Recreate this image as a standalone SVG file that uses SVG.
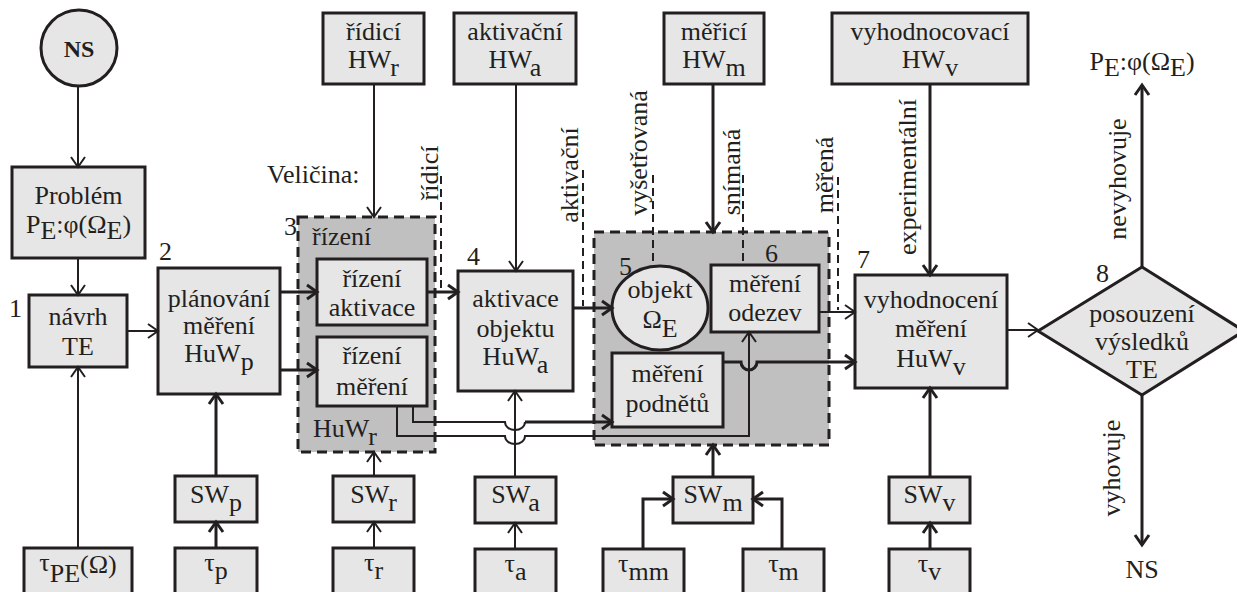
<svg xmlns="http://www.w3.org/2000/svg" width="1237" height="592" viewBox="0 0 1237 592" font-family="'Liberation Serif', 'Times New Roman', Times, serif">
<style>
.box{fill:#e6e6e6;stroke:#231f20;stroke-width:3}
.grp{fill:#c0c0c0;stroke:#231f20;stroke-width:3;stroke-dasharray:10 6}
.t{font-family:'Liberation Serif','Times New Roman',Times,serif;font-size:26px;fill:#231f20}
.c{text-anchor:middle}
.b{font-weight:bold;font-size:24px}
.thin{fill:none;stroke:#231f20;stroke-width:2}
.thick{fill:none;stroke:#231f20;stroke-width:3}
.dash{fill:none;stroke:#231f20;stroke-width:2;stroke-dasharray:8 5}
.a1{marker-end:url(#ah1)}
.a2{marker-end:url(#ah2)}
</style>
<defs>
<marker id="ah1" markerUnits="userSpaceOnUse" viewBox="-14 -10 17 20" refX="0" refY="0" markerWidth="17" markerHeight="20" orient="auto"><path d="M-10,-7 L0,0 L-10,7" fill="none" stroke="#231f20" stroke-width="2"/></marker>
<marker id="ah2" markerUnits="userSpaceOnUse" viewBox="-14 -10 17 20" refX="0" refY="0" markerWidth="17" markerHeight="20" orient="auto"><path d="M-10,-7 L0,0 L-10,7" fill="none" stroke="#231f20" stroke-width="3"/></marker>
</defs>
<rect width="1237" height="592" fill="#ffffff"/>

<g id="ns-top"><circle class="box" cx="79" cy="48" r="38"/><text class="t c b" x="79" y="57">NS</text></g>
<g id="problem"><rect class="box" x="12" y="167" width="133" height="91"/><text class="t c" x="78.5" y="204">Problém</text><text class="t c" x="78.5" y="233">P<tspan dy="6">E</tspan><tspan dy="-6">:φ(Ω</tspan><tspan dy="6">E</tspan><tspan dy="-6">)</tspan></text></g>
<g id="navrh"><rect class="box" x="29" y="295" width="98" height="72"/><text class="t c" x="78" y="325">návrh</text><text class="t c" x="78" y="355">TE</text><text class="t" x="9" y="317">1</text></g>
<g id="planovani"><rect class="box" x="158" y="268" width="122" height="126"/><text class="t c" x="219" y="307">plánování</text><text class="t c" x="219" y="334">měření</text><text class="t c" x="219" y="362">HuW<tspan dy="8">p</tspan></text><text class="t" x="159" y="260">2</text></g>

<g id="hw-r"><rect class="box" x="323" y="13" width="101" height="71"/><text class="t c" x="373.5" y="40">řídicí</text><text class="t c" x="373.5" y="68">HW<tspan dy="8">r</tspan></text></g>
<g id="hw-a"><rect class="box" x="454" y="13" width="122" height="71"/><text class="t c" x="515" y="40">aktivační</text><text class="t c" x="515" y="68">HW<tspan dy="8">a</tspan></text></g>
<g id="hw-m"><rect class="box" x="664" y="13" width="100" height="71"/><text class="t c" x="714" y="40">měřicí</text><text class="t c" x="714" y="68">HW<tspan dy="8">m</tspan></text></g>
<g id="hw-v"><rect class="box" x="832" y="13" width="196" height="71"/><text class="t c" x="930" y="40">vyhodnocovací</text><text class="t c" x="930" y="68">HW<tspan dy="8">v</tspan></text></g>

<g id="velicina"><text class="t" x="267" y="183">Veličina:</text></g>

<g id="huw-r">
<rect class="grp" x="298" y="217" width="137" height="235"/>
<text class="t" x="284" y="235">3</text>
<text class="t" x="312" y="245">řízení</text>
<text class="t" x="313" y="437">HuW<tspan dy="8">r</tspan></text>
<g id="rizeni-aktivace"><rect class="box" x="317" y="259" width="110" height="66"/><text class="t c" x="372" y="287">řízení</text><text class="t c" x="372" y="316">aktivace</text></g>
<g id="rizeni-mereni"><rect class="box" x="317" y="337" width="110" height="69"/><text class="t c" x="372" y="364">řízení</text><text class="t c" x="372" y="395">měření</text></g>
</g>

<g id="aktivace"><rect class="box" x="458" y="271" width="115" height="120"/><text class="t c" x="515.5" y="307">aktivace</text><text class="t c" x="515.5" y="337">objektu</text><text class="t c" x="515.5" y="365">HuW<tspan dy="8">a</tspan></text><text class="t" x="467" y="265">4</text></g>

<g id="mereni-grp">
<rect class="grp" x="594" y="232" width="235" height="213"/>
<g id="objekt"><ellipse class="box" cx="660" cy="308" rx="48" ry="42"/><text class="t c" x="660" y="298">objekt</text><text class="t c" x="660" y="328">Ω<tspan dy="9">E</tspan></text><text class="t" x="619" y="275">5</text></g>
<g id="mereni-odezev"><rect class="box" x="711" y="265" width="108" height="67"/><text class="t c" x="765" y="292">měření</text><text class="t c" x="765" y="321">odezev</text><text class="t" x="765" y="262">6</text></g>
<g id="mereni-podnetu"><rect class="box" x="612" y="353" width="111" height="74"/><text class="t c" x="667.5" y="382">měření</text><text class="t c" x="667.5" y="412">podnětů</text></g>
</g>

<g id="vyhodnoceni"><rect class="box" x="855" y="275" width="152" height="113"/><text class="t c" x="931" y="308">vyhodnocení</text><text class="t c" x="931" y="337">měření</text><text class="t c" x="931" y="367">HuW<tspan dy="8">v</tspan></text><text class="t" x="857" y="268">7</text></g>
<g id="posouzeni"><polygon class="box" points="1142,267 1244,331 1142,395 1038,331"/><text class="t c" x="1142" y="322">posouzení</text><text class="t c" x="1142" y="350">výsledků</text><text class="t c" x="1142" y="378">TE</text><text class="t" x="1096" y="282">8</text></g>
<g id="pe-out"><text class="t c" x="1142" y="70">P<tspan dy="6">E</tspan><tspan dy="-6">:φ(Ω</tspan><tspan dy="6">E</tspan><tspan dy="-6">)</tspan></text></g>
<g id="ns-out"><text class="t c" x="1142" y="578">NS</text></g>

<g id="sw-p"><rect class="box" x="175" y="476" width="82" height="46"/><text class="t c" x="216" y="503">SW<tspan dy="8">p</tspan></text></g>
<g id="sw-r"><rect class="box" x="333" y="476" width="81" height="46"/><text class="t c" x="373.5" y="503">SW<tspan dy="8">r</tspan></text></g>
<g id="sw-a"><rect class="box" x="475" y="477" width="81" height="46"/><text class="t c" x="515.5" y="503">SW<tspan dy="8">a</tspan></text></g>
<g id="sw-m"><rect class="box" x="673" y="477" width="80" height="46"/><text class="t c" x="713" y="503">SW<tspan dy="8">m</tspan></text></g>
<g id="sw-v"><rect class="box" x="889" y="477" width="81" height="46"/><text class="t c" x="929.5" y="503">SW<tspan dy="8">v</tspan></text></g>

<g id="tau-pe"><rect class="box" x="24" y="548" width="108" height="60"/><text class="t c" x="78" y="571">τ<tspan dy="11">PE</tspan><tspan dy="-9">(Ω)</tspan></text></g>
<g id="tau-p"><rect class="box" x="175" y="548" width="82" height="60"/><text class="t c" x="216" y="571">τ<tspan dy="8">p</tspan></text></g>
<g id="tau-r"><rect class="box" x="333" y="548" width="81" height="60"/><text class="t c" x="373.5" y="571">τ<tspan dy="8">r</tspan></text></g>
<g id="tau-a"><rect class="box" x="475" y="549" width="81" height="60"/><text class="t c" x="515.5" y="572">τ<tspan dy="8">a</tspan></text></g>
<g id="tau-mm"><rect class="box" x="603" y="549" width="81" height="60"/><text class="t c" x="643.5" y="572">τ<tspan dy="8">mm</tspan></text></g>
<g id="tau-m"><rect class="box" x="743" y="549" width="81" height="60"/><text class="t c" x="783.5" y="572">τ<tspan dy="8">m</tspan></text></g>
<g id="tau-v"><rect class="box" x="889" y="549" width="81" height="60"/><text class="t c" x="929.5" y="572">τ<tspan dy="8">v</tspan></text></g>

<g id="connectors">
<path class="thin a1" d="M78,86 V167"/>
<path class="thin a1" d="M78,258 V295"/>
<path class="thin a1" d="M78,548 V367"/>
<path class="thin a1" d="M127,331 H158"/>
<path class="thick a2" d="M280,292 H317"/>
<path class="thick a2" d="M280,370 H317"/>
<path class="thick a2" d="M216,476 V394"/>
<path class="thick a2" d="M216,548 V522"/>
<path class="thin a1" d="M374,84 V217"/>
<path class="thin a1" d="M374,476 V452"/>
<path class="thin a1" d="M374,548 V522"/>
<path class="thick a2" d="M427,292 H458"/>
<path class="thin a1" d="M516,84 V271"/>
<path class="thin a1" d="M515,477 V391"/>
<path class="thin a1" d="M515,549 V523"/>
<path class="thick a2" d="M573,308 H612"/>
<path class="thick a2" d="M713,84 V232"/>
<path class="thick a2" d="M713,477 V445"/>
<path class="thick a2" d="M643,549 V499 H673"/>
<path class="thick a2" d="M782,549 V499 H753"/>
<path class="thin a1" d="M819,312 H855"/>
<path class="thick a2" d="M723,362 H741 a8,8 0 0 0 16,0 H855"/>
<path class="thin a1" d="M1007,330 H1038"/>
<path class="thick a2" d="M1142,267 V85"/>
<path class="thick a2" d="M1142,395 V545"/>
<path class="thick a2" d="M930,84 V275"/>
<path class="thick a2" d="M930,477 V388"/>
<path class="thick a2" d="M930,549 V523"/>
<path class="thin" d="M413,406 V422 H505 a10,8 0 0 0 20,0"/>
<path class="thick a2" d="M525,422 H612"/>
<path class="thin a1" d="M397,406 V436 H505 a10,8 0 0 0 20,0 H749 V332"/>
<path class="dash" d="M441,176 V290"/>
<path class="dash" d="M583,170 V306"/>
<path class="dash" d="M653,175 V266"/>
<path class="dash" d="M743,175 V265"/>
<path class="dash" d="M838,177 V310"/>
</g>

<g id="labels">
<text class="t c" transform="translate(438,173) rotate(-90)">řídicí</text>
<text class="t c" transform="translate(578,175) rotate(-90)">aktivační</text>
<text class="t c" transform="translate(647,153) rotate(-90)">vyšetřovaná</text>
<text class="t c" transform="translate(740,172) rotate(-90)">snímaná</text>
<text class="t c" transform="translate(833,175) rotate(-90)">měřená</text>
<text class="t c" transform="translate(916,177) rotate(-90)">experimentální</text>
<text class="t c" transform="translate(1126,179) rotate(-90)">nevyhovuje</text>
<text class="t c" transform="translate(1120,468) rotate(-90)">vyhovuje</text>
</g>
</svg>
